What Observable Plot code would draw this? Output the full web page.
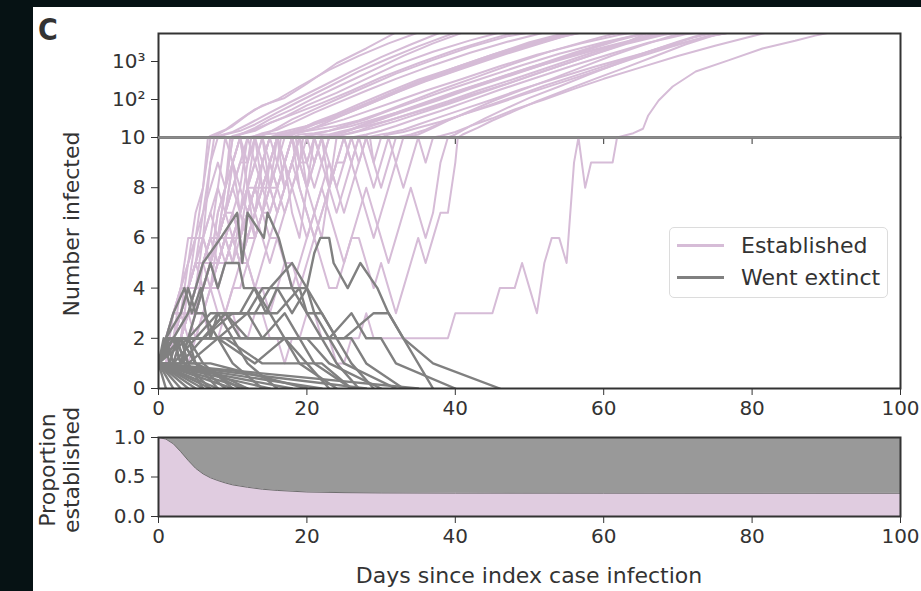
<!DOCTYPE html>
<html><head><meta charset="utf-8">
<script src="https://cdn.jsdelivr.net/npm/d3@7"></script>
<script src="https://cdn.jsdelivr.net/npm/@observablehq/plot@0.6"></script>
<style>
html,body{margin:0;padding:0;background:#061214;}
#root{position:relative;width:921px;height:591px;background:#061214;overflow:hidden;font-family:"DejaVu Sans",sans-serif;color:#333}
#panel{position:absolute;left:33px;top:7px;width:888px;height:584px;background:#fff}
.abs{position:absolute}
.rot{position:absolute;transform:translate(-50%,-50%) rotate(-90deg);white-space:nowrap;font-size:22px;line-height:24px;text-align:center;color:#333}
</style></head><body>
<div id="root"><div id="panel"></div></div>
<script>
// ---------------- data ----------------
const xTicks = [0, 20, 40, 60, 80, 100];
const linTicks = [0, 2, 4, 6, 8, 10];
const logTicks = [100, 1000];
const logTickLabels = ["10²", "10³"];
const propTicks = [0, 0.5, 1];

// established trajectories: daily counts from day 0 ...
const establishedEarly = [
  [1,2,2,4,6,6,8,10,12],
  [1,1,3,4,5,7,8,11],
  [1,2,3,3,5,6,6,9,10,12],
  [1,1,2,2,4,5,7,8,9,8,11],
  [1,2,2,3,3,4,6,5,7,8,10,12],
  [1,1,2,3,4,4,5,6,6,7,9,8,10,11,13],
  [1,2,3,3,4,5,5,6,8,7,9,10,9,11,12],
  [1,1,1,2,3,3,4,5,5,6,7,6,8,9,10,8,9,11,12],
  [1,2,2,2,3,4,4,5,6,6,5,7,8,8,9,10,11],
  [1,1,2,3,3,4,5,4,6,7,8,7,9,10,9,10,12],
  [1,2,3,4,4,5,6,7,6,8,9,10,8,7,9,10,11,13],
  [1,1,2,2,3,3,4,4,5,6,5,6,7,8,9,8,10,9,10,12],
  [1,2,2,3,4,3,5,6,6,7,8,9,9,10,8,9,10,11],
  [1,1,2,3,3,3,4,5,6,6,7,6,7,8,8,9,8,9,10,9,11,12],
  [1,2,3,3,4,5,4,5,6,7,7,8,7,8,9,10,9,8,9,10,11,12],
  [1,1,2,2,3,4,4,5,5,6,6,5,6,7,8,8,7,8,9,10,9,8,9,10,12],
  [1,2,2,3,3,3,4,5,4,5,6,6,7,8,7,8,9,10,11,9,8,10,9,10,11],
  [1,1,1,2,3,3,4,4,5,6,6,5,6,6,7,7,8,9,8,9,10,9,10,8,9,9,10,11,12],
  [1,2,2,2,3,4,4,4,5,6,7,6,5,6,7,8,7,8,9,10,8,7,8,9,8,9,10,9,10,11,12,13],
  [1,1,2,3,3,3,4,5,5,6,6,6,7,6,7,8,8,7,8,9,9,10,9,8,7,8,9,10,9,8,9,10,9,10,11,12],
  [1,2,3,3,4,4,5,6,5,6,7,6,7,8,7,6,7,8,9,8,7,6,7,8,9,10,9,8,7,6,7,8,9,8,9,10,9,10,11],
  [1,1,2,2,1,2,3,2,2,3,3,2,2,3,3,2,2,1,2,2,3,3,2,2,1,1,2,2,3,2,2,2,2,2,2,2,2,2,2,2,3,3,3,3,3,3,4,4,4,5,4,3,5,6,6,5],
  [1,1,2,2,3,2,3,4,3,3,4,4,5,4,4,3,4,5,5,4,5,6,5,4,4,5,6,6,5,4,5,4,3,4,5,6,5,6,7,7,9,12],
  [1,1,2,3,4,5,6,5,7,8,9,10,8,6,7,9,10,12],
  [1,2,3,4,5,6,6,7,8,10,9,7,8,10,11],
  [1,1,2,2,3,4,5,6,6,7,8,9,10,9,8,9,10,9,7,6,8,9,10,11],
  [1,2,2,3,4,4,5,5,6,7,6,7,8,9,10,9,10,8,9,10,9,10,11,10,12],
  [1,1,2,3,3,4,4,5,6,5,6,7,8,7,8,9,8,9,10,8,7,6,7,8,9,10,9,10,11,9,10,12],
  [1,2,2,3,3,4,5,5,4,5,6,7,6,7,8,7,8,9,10,9,8,9,10,9,8,7,8,9,10,9,8,9,10,11,12],
  [1,1,2,2,3,3,4,4,5,5,6,5,6,7,6,5,6,7,8,7,6,7,8,7,6,5,6,7,8,7,6,5,6,7,8,7,6,7,9,10,12],
  [1,1,2,3,2,3,4,5,6,8,10,12],
  [1,2,2,3,4,6,7,9,11],
  [1,1,1,2,2,3,3,4,4,3,4,5,5,4,5,6,6,5,4,5,6,7,6,8,10,12]
];
// ... followed by [day, count] readings once the outbreak takes off
const establishedGrowth = [
  [[10,20],[12,40],[14,70],[17,110],[20,260],[24,900],[28,2200],[32,5800]],
  [[9,16],[11,30],[13,55],[16,100],[19,220],[23,600],[27,1400],[31,3000],[35,5800]],
  [[11,15],[13,22],[16,45],[19,90],[23,220],[27,550],[31,1200],[35,2500],[40,5800]],
  [[12,14],[14,20],[17,35],[20,70],[24,150],[28,350],[32,800],[37,1800],[42,3600],[46,5800]],
  [[13,15],[15,24],[18,40],[22,80],[26,170],[30,380],[35,900],[40,2000],[45,4000],[48,5800]],
  [[16,16],[18,24],[21,45],[24,80],[28,170],[32,350],[37,800],[42,1700],[47,3300],[52,5800]],
  [[16,13],[19,18],[22,25],[25,40],[28,70],[32,150],[36,330],[41,750],[46,1600],[51,3200],[56,5800]],
  [[20,15],[22,22],[25,40],[28,70],[32,150],[36,300],[41,650],[46,1400],[51,2800],[55,4800],[57,5800]],
  [[18,13],[21,16],[24,20],[27,28],[30,45],[34,90],[38,180],[43,400],[48,900],[53,1900],[58,3600],[62,5800]],
  [[18,14],[20,20],[23,32],[26,55],[30,110],[34,230],[39,500],[44,1100],[49,2300],[54,4300],[57,5800]],
  [[19,16],[21,25],[24,42],[27,75],[31,160],[35,330],[40,700],[45,1500],[50,3000],[54,5000],[56,5800]],
  [[21,13],[23,15],[26,20],[29,30],[32,45],[36,85],[40,160],[45,330],[50,700],[56,1500],[62,3000],[68,5800]],
  [[19,14],[22,20],[25,30],[28,48],[32,90],[36,170],[41,350],[46,750],[51,1500],[57,3000],[62,5000],[64,5800]],
  [[23,15],[25,20],[28,30],[31,50],[35,95],[39,180],[44,380],[49,800],[54,1600],[60,3200],[66,5800]],
  [[23,12],[25,15],[28,20],[31,28],[34,42],[38,70],[42,130],[47,260],[52,560],[57,1200],[62,2600],[66,5800]],
  [[26,16],[28,24],[31,38],[34,60],[38,110],[42,200],[47,420],[52,850],[58,1800],[64,3500],[69,5800]],
  [[26,13],[29,18],[32,27],[35,42],[39,75],[43,140],[48,300],[53,650],[58,1400],[63,2900],[68,5000],[70,5800]],
  [[30,15],[32,20],[35,32],[38,50],[42,95],[46,180],[51,380],[56,800],[61,1600],[66,3100],[71,5200],[73,5800]],
  [[33,16],[35,22],[38,35],[41,55],[45,100],[49,190],[54,380],[59,750],[64,1400],[69,2600],[74,4500],[77,5800]],
  [[37,18],[39,28],[42,50],[45,90],[49,180],[53,350],[57,700],[61,1400],[65,2600],[69,4600],[71,5800]],
  [[40,14],[42,20],[45,32],[48,55],[52,100],[56,190],[60,350],[65,700],[70,1400],[75,2600],[80,4600],[82,5800]],
  [[56,9],[56.6,10],[57.5,8],[58.3,9],[61.2,9],[61.8,10],[64,13],[65.3,17],[66,38],[67.4,94],[69.3,220],[72.4,545],[76.8,1070],[81.4,2200],[85.8,3500],[88.5,4800],[90.5,5800]],
  [[43,18],[45,28],[48,50],[51,90],[55,180],[59,360],[63,700],[67,1400],[71,2800],[75,5000],[77,5800]],
  [[19,15],[21,22],[24,38],[27,65],[31,140],[35,300],[40,700],[45,1500],[50,3200],[55,5800]],
  [[16,18],[18,30],[21,55],[24,100],[28,220],[32,480],[37,1100],[42,2400],[47,4600],[50,5800]],
  [[25,14],[27,20],[30,30],[33,50],[37,95],[41,180],[46,380],[51,800],[56,1700],[61,3400],[66,5800]],
  [[26,16],[28,22],[31,35],[34,55],[38,100],[42,190],[47,400],[52,850],[57,1800],[62,3600],[66,5800]],
  [[33,14],[35,18],[38,26],[41,40],[45,70],[49,130],[54,270],[59,560],[64,1200],[69,2400],[74,4600],[77,5800]],
  [[36,16],[38,24],[41,40],[44,65],[48,120],[52,230],[57,480],[62,1000],[67,2100],[72,4200],[75,5800]],
  [[42,20],[44,32],[47,60],[50,110],[54,220],[58,450],[62,900],[66,1800],[70,3300],[74,5800]],
  [[13,18],[15,30],[18,55],[21,110],[25,260],[29,600],[33,1400],[37,3000],[41,5800]],
  [[10,14],[12,22],[15,45],[18,90],[22,220],[26,550],[30,1300],[34,2800],[38,5800]],
  [[27,15],[29,21],[32,32],[35,50],[39,90],[43,170],[48,350],[53,750],[58,1600],[63,3200],[67,5800]]
];

// extinct trajectories: [day, count] at each recorded event
const extinctPaths = [
  [[0,1],[1,0]], [[0,1],[2,0]], [[0,1],[3,0]], [[0,1],[4,0]], [[0,1],[5,0]],
  [[0,1],[6,0]], [[0,1],[7,0]], [[0,1],[8,0]], [[0,1],[10,0]], [[0,1],[12,0]],
  [[0,1],[15,0]], [[0,1],[18,0]], [[0,1],[22,0]], [[0,1],[28,0]], [[0,1],[35,0]],
  [[0,1],[0.7,2],[1.5,1],[2.5,2],[3.5,1],[7,0]],
  [[0,1],[1.2,2],[2,2],[3,1],[4,2],[5,1],[11,0]],
  [[0,1],[1.5,2],[3,2],[4,1],[6,0]],
  [[0,1],[1,2],[2,1],[3,2],[5,1],[8,0]],
  [[0,1],[2,2],[3,1],[4,2],[6,1],[10,0]],
  [[0,1],[1,2],[3,2],[5,1],[12,0]],
  [[0,1],[1,2],[2,3],[3.5,4],[4.5,3],[5.7,4],[7,2],[8,3],[10,2],[12,1],[16,0]],
  [[0,1],[2,2],[4,3],[6,5],[8.4,6],[10.6,7],[11.3,5],[12,7],[14.2,6],[14.7,7],[16.2,6],[18,4],[20,3],[22,2],[24,1],[27,0]],
  [[0,1],[2,2],[4,2],[5,3],[7,5],[8,4],[9,5],[10.8,5],[11.5,4],[13,4],[15,3],[17,2],[20,1],[23,0]],
  [[0,1],[3,2],[6,2],[9,3],[12,3],[14,4],[16,4],[18,4],[20,4],[21,5.4],[21.8,6],[23,6],[23.6,5],[25.5,4],[27.2,5],[29.5,4],[31,3],[33,2],[37,0]],
  [[0,1],[3,2],[8,2],[13,1],[17,2],[21,2],[25,2],[29,3],[31,3],[33,2],[37,1],[46,0]],
  [[0,1],[2,2],[5,2],[8,3],[11,3],[12.9,4],[14.5,3],[16,4],[18,3],[20,4],[22,3],[24,2],[26,1],[29,0]],
  [[0,1],[1,2],[4,2],[7,3],[9,3],[11,2],[14,2],[17,3],[19,2],[21,1],[26,0]],
  [[0,1],[3,1],[6,2],[10,3],[13,3],[15,4],[18,5],[20,4],[21,3],[23,2],[25,1],[32,0]],
  [[0,1],[4,2],[8,2],[12,3],[16,3],[19,4],[20,3],[22,3],[24,2],[26,2],[28,1],[33,0]],
  [[0,1],[2,2],[6,2],[9,3],[12,2],[16,2],[20,2],[23,1],[30,0]],
  [[0,1],[1,2],[3,3],[4,4],[5,3],[6,3],[8,2],[10,1],[14,0]],
  [[0,1],[3,2],[6,2],[9,3],[12,3],[14,2],[17,2],[19,1],[24,0]],
  [[0,1],[4,1],[8,2],[14,2],[20,2],[23,2],[26,3],[28,2],[30,2],[32,1],[40,0]],
  [[0,1],[2,1],[5,2],[9,2],[14,1],[22,1],[26,0]],
  [[0,1],[2,2],[4,1],[7,1],[20,0]],
  [[0,1],[1,2],[2,2],[3,1],[5,1],[9,0]]
];

// proportion of simulations established
const propDays   = [0, 1, 2, 3, 4, 5, 6, 7, 8, 9, 10, 12, 14, 16, 18, 20, 25, 30, 40, 60, 100];
const propValues = [1, 0.98, 0.92, 0.82, 0.71, 0.61, 0.54, 0.49, 0.455, 0.425, 0.40, 0.37, 0.345, 0.33, 0.32, 0.31, 0.302, 0.298, 0.296, 0.295, 0.294];

// ---------------- build tables ----------------
const estRows = [];
establishedEarly.forEach((vals, i) => {
  vals.forEach((v, d) => estRows.push({id: i, day: d, n: v}));
  establishedGrowth[i].forEach(([d, v]) => estRows.push({id: i, day: d, n: v}));
});
const extRows = [];
extinctPaths.forEach((p, i) => p.forEach(([d, v]) => extRows.push({id: i, day: d, n: v})));
const propRows = propDays.map((d, i) => ({day: d, p: propValues[i]}));

const PINK = "#d6bcd7", GREY = "#808080", INK = "#333";
const W = 921, ML = 158, MR = 21;
const baseStyle = {background: "transparent", overflow: "visible", fontFamily: "DejaVu Sans", fontSize: "20px", color: INK};
const root = document.getElementById("root");
function place(svg, top) { svg.style.position = "absolute"; svg.style.left = "0px"; svg.style.top = top + "px"; root.appendChild(svg); }

// log part (10 .. ~5500)
const A = Plot.plot({
  width: W, height: 145, marginTop: 33, marginBottom: 8, marginLeft: ML, marginRight: MR,
  style: baseStyle,
  x: {domain: [0, 100], ticks: xTicks, tickSize: 7, tickFormat: () => "", label: null},
  y: {type: "log", domain: [10, 5456], ticks: logTicks, tickFormat: d => logTickLabels[logTicks.indexOf(d)], tickSize: 7, tickPadding: 6, label: null},
  marks: [
    Plot.line(estRows, {x: "day", y: "n", z: "id", stroke: PINK, strokeWidth: 2, clip: true}),
    Plot.frame({stroke: INK, strokeWidth: 2})
  ]
});
place(A, 0);

// linear part (0 .. 10)
const B = Plot.plot({
  width: W, height: 330, marginTop: 37, marginBottom: 42, marginLeft: ML, marginRight: MR,
  style: baseStyle,
  x: {domain: [0, 100], ticks: xTicks, tickSize: 7, tickPadding: 5, label: null},
  y: {domain: [0, 10], ticks: linTicks, tickSize: 7, tickPadding: 6, label: null},
  marks: [
    Plot.line(estRows, {x: "day", y: "n", z: "id", stroke: PINK, strokeWidth: 2, clip: true}),
    Plot.line(extRows, {x: "day", y: "n", z: "id", stroke: GREY, strokeWidth: 2.4, clip: true}),
    Plot.frame({stroke: INK, strokeWidth: 2}),
    Plot.ruleY([10], {stroke: "#8c8c8c", strokeWidth: 2.5})
  ]
});
place(B, 100);

// proportion panel
const C = Plot.plot({
  width: W, height: 171, marginTop: 17, marginBottom: 75, marginLeft: ML, marginRight: MR,
  style: baseStyle,
  x: {domain: [0, 100], ticks: xTicks, tickSize: 7, tickPadding: 5, label: null},
  y: {domain: [0, 1], ticks: propTicks, tickFormat: d3.format(".1f"), tickSize: 7, tickPadding: 6, label: null},
  marks: [
    Plot.areaY(propRows, {x: "day", y1: 0, y2: "p", fill: "#d8bfd8", fillOpacity: 0.8}),
    Plot.areaY(propRows, {x: "day", y1: "p", y2: 1, fill: GREY, fillOpacity: 0.8}),
    Plot.line(propRows, {x: "day", y: "p", stroke: "#6e6e6e", strokeWidth: 1}),
    Plot.frame({stroke: INK, strokeWidth: 2})
  ]
});
place(C, 420);

// ---------------- texts & legend ----------------
function div(html, css, cls) {
  const d = document.createElement("div");
  d.className = cls || "abs"; d.innerHTML = html; d.style.cssText += css; root.appendChild(d); return d;
}
div("C", "left:38px;top:12px;font-family:'Liberation Sans Narrow','DejaVu Sans Condensed',sans-serif;font-weight:bold;font-size:30px;color:#333;");
div("Number infected", "left:72px;top:224px;", "rot");
div("Proportion<br>established", "left:60px;top:470px;", "rot");
div("Days since index case infection", "left:529px;top:575px;transform:translate(-50%,-50%);font-size:22px;color:#333;white-space:nowrap;");

const legend = div("", "left:669px;top:227px;width:219px;height:71px;border:1.5px solid #dcdcdc;border-radius:5px;background:rgba(255,255,255,0.85);box-sizing:border-box;");
const legendItems = [["Established", PINK], ["Went extinct", GREY]];
legendItems.forEach(([label, color], i) => {
  div("", `left:677px;top:${244 + 32 * i}px;width:47px;height:2.5px;background:${color};`);
  div(label, `left:741px;top:${245 + 32 * i}px;transform:translateY(-50%);font-size:22px;color:#333;white-space:nowrap;`);
});
</script>
</body></html>
